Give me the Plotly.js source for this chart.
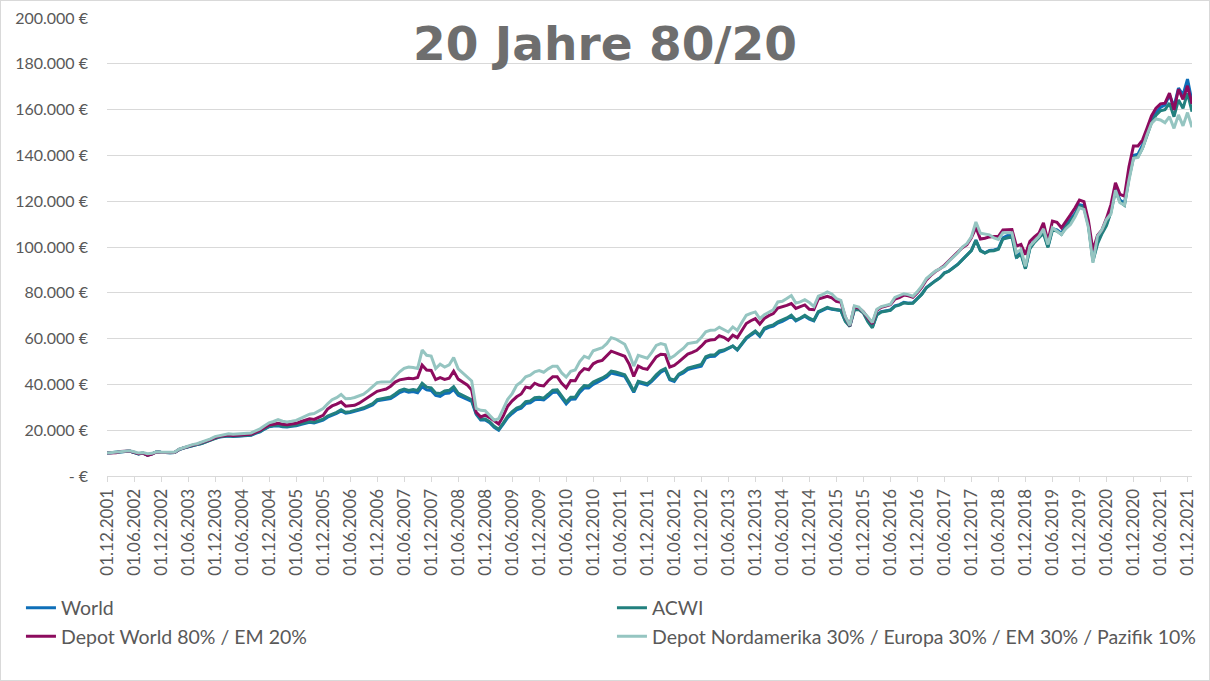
<!DOCTYPE html>
<html>
<head>
<meta charset="utf-8">
<script src="https://cdn.plot.ly/plotly-3.0.1.min.js"></script>
<style>
html,body{margin:0;padding:0;background:#fff;}
#wrap{width:1210px;height:681px;box-sizing:border-box;border:1px solid #d9d9d9;overflow:hidden;}
#chart{width:1208px;height:679px;}
</style>
</head>
<body>
<div id="wrap"><div id="chart"></div></div>
<script>
// Monthly observations, first month 01.12.2001
const startYear = 2001, startMonth = 12, nMonths = 242;

const xTickLabels = ["01.12.2001","01.06.2002","01.12.2002","01.06.2003","01.12.2003","01.06.2004","01.12.2004",
"01.06.2005","01.12.2005","01.06.2006","01.12.2006","01.06.2007","01.12.2007","01.06.2008","01.12.2008",
"01.06.2009","01.12.2009","01.06.2010","01.12.2010","01.06.2011","01.12.2011","01.06.2012","01.12.2012",
"01.06.2013","01.12.2013","01.06.2014","01.12.2014","01.06.2015","01.12.2015","01.06.2016","01.12.2016",
"01.06.2017","01.12.2017","01.06.2018","01.12.2018","01.06.2019","01.12.2019","01.06.2020","01.12.2020",
"01.06.2021","01.12.2021"];

const yTickValues = [0,20000,40000,60000,80000,100000,120000,140000,160000,180000,200000];
const yTickLabels = ["- €","20.000 €","40.000 €","60.000 €","80.000 €","100.000 €","120.000 €","140.000 €","160.000 €","180.000 €","200.000 €"];

const seriesNames = ["World","ACWI","Depot World 80% / EM 20%","Depot Nordamerika 30% / Europa 30% / EM 30% / Pazifik 10%"];

const world = [
10000,10100,10200,10600,10700,10900,10400,9600,10000,9100,9700,10600,
10400,10200,10200,10300,11500,12200,12800,13300,13700,14200,15000,15600,
16500,17000,17300,17500,17300,17400,17500,17400,17800,18600,19300,20500,
21500,21800,21900,21500,21400,21700,21900,22500,22900,23500,23200,23800,
24400,25700,26400,27300,28400,27400,27700,28100,28800,29300,30100,31000,
32800,33100,33300,33800,35000,36400,37200,36600,36900,36300,39000,37600,
37300,35200,34800,36000,36200,37700,35200,34300,33600,32600,27000,24500,
24500,23300,21200,20000,22600,25500,27300,28900,29600,31600,32000,33300,
33500,33200,34800,36500,36700,34000,31500,33500,33600,36500,38500,38400,
40000,41000,42000,43200,45000,44600,44000,43500,40200,36500,40800,40200,
39700,41300,43500,45300,46400,42000,41300,44000,45000,46500,47000,47400,
48000,51500,52200,52300,54000,54600,55600,56700,55000,57500,60000,61500,
62900,61000,64000,64900,65400,66800,67500,68600,69800,67700,68600,69800,
68500,67700,71500,72500,73300,72800,72700,72300,67800,65600,72800,73000,
71500,67800,65000,70500,71800,72000,72500,74300,74800,75800,75500,75600,
77500,79500,82300,84000,85300,86600,88700,89500,91000,92500,94500,96300,
98500,103000,98500,97500,98500,98700,99300,104000,105000,106000,95800,97500,
90800,99800,102500,104500,106500,100200,108000,107500,106000,109500,112000,114500,
118500,118000,110000,94500,102000,106500,110000,116000,125500,120500,119000,131000,
140000,140500,144500,150000,156000,158500,161000,162000,166400,161300,169400,166400,
173300,163500];

const acwi = [
10000,10100,10200,10600,10700,10900,10400,9600,10000,9100,9700,10600,
10400,10200,10200,10300,11500,12200,12800,13300,13700,14200,15000,15700,
16600,17100,17400,17600,17400,17500,17600,17500,17900,18800,19500,20700,
21700,22000,22200,21700,21600,21900,22100,22800,23200,23800,23500,24100,
24800,26200,26900,27800,28900,27800,28100,28500,29200,29800,30600,31600,
33300,33700,33900,34500,35800,37300,38000,37400,37800,37400,40500,38800,
38500,36200,36000,37100,37400,39000,36200,35300,34500,33300,27400,24900,
24900,23700,21700,20400,23100,26100,28100,29700,30400,32500,32800,34200,
34400,34000,35700,37500,37600,34800,32300,34400,34500,37500,39500,39300,
41000,42000,42800,44000,45800,45400,44700,44200,40800,37000,41400,40800,
40300,41900,44200,46000,46900,42500,41900,44500,45600,47100,47600,48000,
48700,52100,52800,52900,54600,55000,55800,56800,55200,57800,60400,61900,
63300,61400,64500,65400,66000,67300,68000,69000,70200,68100,69000,70200,
68900,68000,71800,72800,73600,73000,72800,72300,67500,65300,72500,72700,
71200,67400,64700,70300,71600,71800,72300,74100,74600,75600,75300,75400,
77300,79400,82200,83900,85200,86500,88600,89400,90900,92400,94400,96200,
98400,102900,98300,97300,98300,98400,99000,103500,104000,104500,95200,97000,
90500,99300,102000,104000,106000,99800,107400,107000,105500,108800,111300,113800,
117800,117200,109300,93800,101300,105800,109300,115200,124600,119700,118200,130000,
139000,139400,143200,148500,154300,157500,159500,160000,162800,156900,164200,160600,
167200,159100];

const depotWorldEM = [
10000,10100,10200,10700,10800,10900,10400,9700,10000,9000,9600,10500,
10300,10200,10200,10300,11600,12300,12900,13500,13900,14400,15200,15900,
16800,17300,17700,17900,17700,17800,17900,17800,18200,19100,19900,21200,
22300,22600,23000,22600,22400,22700,23000,23700,24300,25000,24700,25600,
26500,29200,30600,31400,32400,30500,30600,30900,31800,33100,34200,35500,
37000,37500,38000,39200,41000,42000,42400,42700,42500,43000,48400,46300,
46100,42100,43000,42200,42700,45800,42300,41200,39800,37500,27800,25800,
26600,25500,24100,22700,26200,30500,32800,34600,35800,38800,38400,40500,
39600,39300,41600,43300,43300,40500,38500,41700,41600,45000,46900,46400,
49000,50000,50500,52300,54500,53800,53000,52300,48800,43500,48000,47000,
46600,49300,52000,53200,53000,47600,48300,49800,51500,53200,54000,54900,
56700,58800,59400,59600,61300,60600,59300,61500,60400,63500,66600,67800,
68700,66300,68800,70000,70900,73300,73800,74500,75300,73200,74000,74700,
72800,72600,77300,78000,78500,77800,76300,75800,69400,65600,73800,73400,
71700,69000,66500,72400,73700,74200,74800,77200,77900,79000,78700,78000,
80000,82500,85600,87600,89300,90500,92000,94000,96000,98000,99700,101000,
104000,108500,103500,103800,104400,104600,104600,107400,107600,107600,100400,101100,
96700,102500,104400,106000,110600,102500,111300,110800,108400,111500,114000,117000,
120500,119800,111500,98500,105000,107500,112500,118500,128000,123000,122200,135000,
144100,144100,146700,151800,157200,160600,162500,162800,167200,159900,168900,164500,
170400,162500];

const depotRegions = [
10000,10200,10300,10800,10900,11000,10600,10000,10200,9700,9900,10600,
10400,10300,10300,10400,11700,12400,13100,13700,14100,14700,15500,16200,
17200,17700,18100,18400,18200,18300,18500,18400,18800,19700,20600,21900,
23200,23800,24600,23900,23600,23900,24300,25200,26000,27000,27300,28300,
29500,31500,33300,34200,35600,33700,33800,34300,35100,35700,37300,39000,
40800,41100,41100,41200,43500,45500,47000,47600,47400,47000,55000,52700,
52400,46900,48800,47600,48500,51700,46800,45000,43300,41500,29500,28700,
28500,26200,24400,25000,29000,33500,36000,39600,41100,43300,44000,45500,
46000,45300,46800,47900,47900,45000,43200,45700,46300,50000,52300,51500,
54700,55400,56000,57800,60400,59800,58800,57500,53300,48000,52700,52000,
51400,54000,57000,57800,57300,51300,52500,54200,55700,57800,58200,58500,
60500,63000,63600,63700,65000,64000,62900,65100,63600,67000,70200,71000,
71650,68700,70400,71500,72600,76000,76300,77500,78800,75500,76000,77000,
75800,74000,78500,79300,80400,79500,77500,76700,69600,65800,74300,73800,
71800,69500,67000,72800,74000,74500,75000,78000,78700,79600,79200,78500,
80500,83000,86200,88000,89500,90500,91600,93800,95500,97500,100000,101500,
104400,110900,106000,105500,105300,104000,103300,106200,106200,106200,97500,98900,
91600,100400,102500,104700,107900,101100,108400,106900,105500,108000,109800,113100,
117100,116400,108500,93100,104700,107500,112000,114500,124800,119300,118300,129200,
138700,139100,143000,148900,154000,155900,155500,154300,156900,151800,157700,152900,
158700,152300];

const seriesColors = ["#0F6FB8","#22807E","#8C0B5E","#95C5C1"];

// category labels "01.MM.YYYY"
const categories = [];
for (let i = 0; i < nMonths; i++) {
  const t = startYear * 12 + (startMonth - 1) + i;
  const y = Math.floor(t / 12), mo = t % 12 + 1;
  categories.push("01." + (mo < 10 ? "0" + mo : mo) + "." + y);
}

const seriesValues = [world, acwi, depotWorldEM, depotRegions];
const traces = seriesValues.map((vals, k) => ({
  type: "scatter", mode: "lines",
  x: categories, y: vals, name: seriesNames[k],
  line: {color: seriesColors[k], width: 3}
}));

const layout = {
  width: 1208, height: 679,
  margin: {l: 106, r: 17, t: 17, b: 204, autoexpand: false},
  paper_bgcolor: "#ffffff", plot_bgcolor: "#ffffff",
  showlegend: true,
  title: {
    text: "20 Jahre 80/20",
    font: {family: "DejaVu Sans", size: 47, color: "#6e6e6e", weight: "bold"},
    xref: "container", x: 0.5, xanchor: "center",
    yref: "container", y: 0.938, yanchor: "middle"
  },
  xaxis: {
    type: "category", range: [0, 241],
    tickmode: "array", tickvals: xTickLabels, ticktext: xTickLabels,
    tickangle: -90, ticks: "outside", ticklen: 5, tickcolor: "#d9d9d9",
    showline: true, linecolor: "#d9d9d9", linewidth: 1,
    showgrid: false, zeroline: false,
    tickfont: {family: "Lato", size: 17, color: "#595959"}
  },
  yaxis: {
    range: [0, 200000], tickmode: "array", tickvals: yTickValues, ticktext: yTickLabels,
    showgrid: true, gridcolor: "#d9d9d9", gridwidth: 1,
    zeroline: false, showline: false, ticks: "",
    ticklabelstandoff: 18,
    tickfont: {family: "Lato", size: 16, color: "#595959"}
  },
  legend: {
    orientation: "h", xref: "paper", yref: "paper",
    x: -0.0793, xanchor: "left", y: -0.246, yanchor: "top",
    entrywidthmode: "pixels", entrywidth: 546,
    font: {family: "Lato", size: 19.5, color: "#595959"},
    bgcolor: "rgba(0,0,0,0)", itemclick: false
  }
};

Plotly.newPlot("chart", traces, layout, {displayModeBar: false, staticPlot: true});
</script>
</body>
</html>
